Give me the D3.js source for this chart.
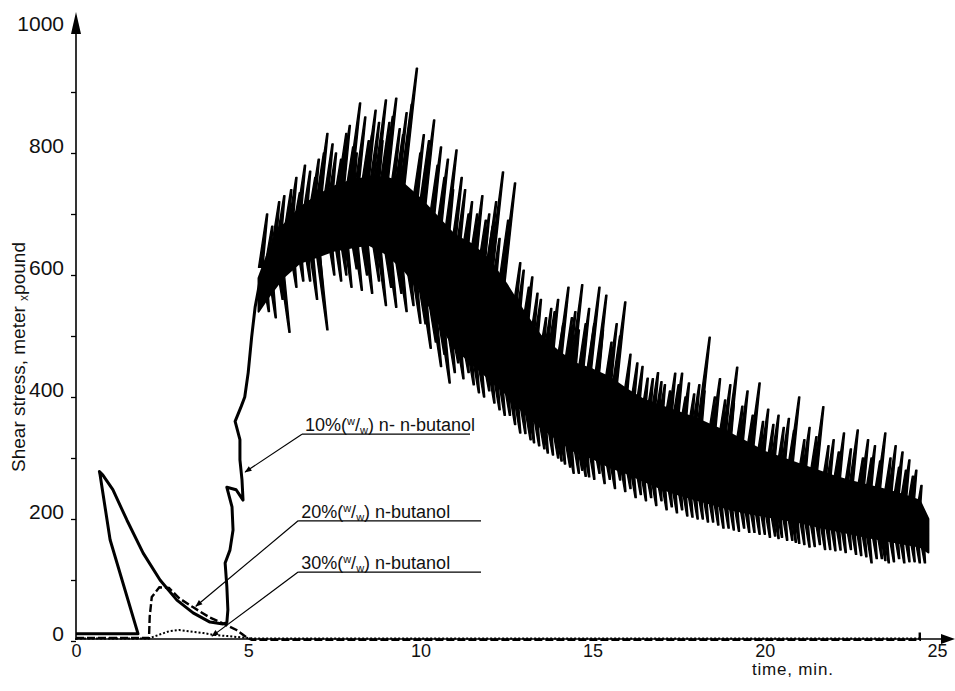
<!DOCTYPE html>
<html>
<head>
<meta charset="utf-8">
<script src="https://d3js.org/d3.v7.min.js"></script>
<style>
  body { margin: 0; background: #fff; }
  svg { display: block; font-family: "Liberation Sans", Arial, sans-serif; }
</style>
</head>
<body>
<svg width="955" height="691"></svg>
<script>
// 10% n-butanol: start-up loop and the climb (time in min, shear stress)
var loopTime = [0, 1.8, 0.99, 0.7, 0.68, 0.78, 1.07, 1.48, 1.95, 2.44, 2.93, 3.4, 3.89, 4.27, 4.38, 4.41, 4.38, 4.33, 4.47, 4.56, 4.53, 4.38, 4.65, 4.85, 4.82, 4.76, 4.76, 4.62, 4.8, 4.9, 5.0, 5.1, 5.2, 5.35];
var loopValue = [12, 12, 166, 272, 278, 272, 248, 198, 144, 100, 67, 46, 31, 28, 30, 51, 89, 128, 149, 182, 220, 252, 248, 231, 264, 297, 330, 360, 385, 400, 440, 498, 547, 592];

// 10% n-butanol: dense part of the noisy trace (lower / upper edge)
var bandTime = [5.3, 5.6, 6, 6.5, 7, 7.5, 8, 8.5, 9, 9.5, 10, 10.5, 11, 11.5, 12, 12.5, 13, 13.5, 14, 14.5, 15, 15.5, 16, 16.5, 17, 17.5, 18, 18.5, 19, 19.5, 20, 20.5, 21, 21.5, 22, 22.5, 23, 23.5, 24, 24.5, 24.75];
var bandLow = [540, 565, 595, 620, 630, 640, 645, 650, 635, 610, 575, 525, 480, 455, 430, 405, 375, 350, 330, 310, 300, 285, 275, 262, 250, 240, 232, 224, 216, 210, 205, 200, 195, 188, 182, 176, 170, 165, 160, 155, 145];
var bandHigh = [595, 640, 680, 710, 730, 745, 755, 760, 760, 750, 725, 695, 665, 650, 625, 585, 540, 500, 475, 455, 445, 432, 412, 395, 385, 375, 365, 352, 340, 325, 310, 300, 290, 280, 270, 262, 255, 248, 240, 230, 200];

// 10% n-butanol: tall peaks above the band
var upTime = [5.55, 5.9, 6.25, 6.5, 6.8, 7.05, 7.3, 7.55, 7.85, 8.05, 8.25, 8.4, 8.6, 8.8, 9.0, 9.2, 9.4, 9.6, 9.9, 10.1, 10.4, 10.6, 10.8, 11.05, 11.3, 11.5, 11.8, 12.0, 12.2, 12.4, 12.75, 13.0, 13.25, 13.5, 13.8, 14.0, 14.3, 14.5, 14.7, 14.9, 15.2, 15.4, 15.7, 15.95, 16.3, 16.6, 16.9, 17.1, 17.4, 17.6, 17.8, 18.1, 18.4, 18.7, 19.0, 19.2, 19.5, 19.85, 20.1, 20.4, 20.7, 21.0, 21.3, 21.7, 22.0, 22.3, 22.7, 23.0, 23.2, 23.5, 23.8, 24.0, 24.2, 24.4];
var upTop = [700, 720, 740, 735, 770, 790, 832, 800, 832, 810, 882, 859, 830, 850, 887, 860, 840, 866, 939, 830, 854, 810, 790, 805, 740, 720, 730, 700, 720, 769, 751, 608, 597, 560, 545, 560, 580, 540, 584, 545, 580, 567, 520, 556, 456, 431, 440, 420, 439, 439, 423, 420, 498, 430, 420, 449, 410, 423, 380, 370, 365, 400, 350, 384, 330, 341, 346, 330, 320, 341, 320, 310, 297, 280];

// 10% n-butanol: smaller peaks in between
var smallUpTime = [5.7, 6.05, 6.4, 6.65, 6.95, 7.2, 7.45, 7.7, 7.95, 8.15, 8.5, 8.7, 8.9, 9.1, 9.3, 9.5, 9.75, 10.0, 10.25, 10.5, 10.7, 10.95, 11.2, 11.4, 11.65, 11.9, 12.1, 12.3, 12.55, 12.9, 13.15, 13.4, 13.65, 13.9, 14.15, 14.4, 14.6, 14.8, 15.05, 15.3, 15.55, 15.8, 16.1, 16.45, 16.75, 17.0, 17.25, 17.5, 17.7, 17.95, 18.25, 18.55, 18.85, 19.1, 19.35, 19.65, 19.95, 20.25, 20.55, 20.85, 21.15, 21.5, 21.85, 22.15, 22.5, 22.85, 23.1, 23.35, 23.65, 23.9, 24.1, 24.3, 24.55];
var smallUpTop = [680, 730, 760, 780, 760, 800, 815, 790, 845, 800, 820, 870, 820, 850, 890, 830, 880, 800, 820, 780, 760, 740, 760, 700, 700, 690, 680, 660, 690, 620, 580, 570, 530, 540, 520, 530, 510, 520, 520, 510, 490, 500, 470, 450, 430, 425, 410, 420, 400, 405, 410, 400, 395, 390, 385, 370, 360, 355, 350, 345, 330, 335, 320, 310, 315, 300, 300, 295, 300, 285, 280, 270, 255];

// 10% n-butanol: deep dips below the band
var downTime = [5.8, 6.2, 6.6, 7.0, 7.3, 7.7, 8.0, 8.3, 8.6, 9.0, 9.3, 9.6, 10.0, 10.3, 10.6, 10.85, 11.1, 11.4, 11.7, 12.0, 12.3, 12.6, 12.9, 13.2, 13.45, 13.7, 14.0, 14.2, 14.45, 14.7, 14.9, 15.2, 15.5, 15.8, 16.1, 16.4, 16.7, 17.0, 17.3, 17.6, 17.9, 18.2, 18.5, 18.8, 19.1, 19.4, 19.7, 20.0, 20.3, 20.5, 20.8, 21.0, 21.3, 21.6, 21.9, 22.2, 22.5, 22.8, 23.1, 23.4, 23.6, 23.9, 24.2, 24.5];
var downBottom = [530, 506, 590, 560, 510, 590, 580, 575, 570, 550, 547, 540, 521, 480, 450, 423, 456, 440, 407, 410, 379, 370, 341, 330, 320, 308, 300, 290, 275, 280, 269, 275, 265, 264, 250, 240, 235, 230, 220, 215, 203, 200, 195, 185, 182, 185, 178, 175, 172, 170, 165, 160, 154, 158, 150, 149, 150, 140, 128, 135, 128, 135, 130, 128];

// 10% n-butanol: smaller dips in between
var smallDownTime = [5.6, 6.0, 6.4, 6.8, 7.15, 7.5, 7.85, 8.15, 8.45, 8.8, 9.15, 9.45, 9.8, 10.15, 10.45, 10.7, 11.0, 11.25, 11.55, 11.85, 12.15, 12.45, 12.75, 13.05, 13.3, 13.6, 13.85, 14.1, 14.35, 14.6, 14.8, 15.05, 15.35, 15.65, 15.95, 16.25, 16.55, 16.85, 17.15, 17.45, 17.75, 18.05, 18.35, 18.65, 18.95, 19.25, 19.55, 19.85, 20.15, 20.4, 20.65, 20.9, 21.15, 21.45, 21.75, 22.05, 22.35, 22.65, 22.95, 23.25, 23.5, 23.75, 24.05, 24.35, 24.65];
var smallDownBottom = [540, 560, 580, 590, 585, 600, 600, 610, 600, 590, 580, 570, 550, 520, 490, 470, 440, 430, 420, 400, 390, 370, 355, 340, 325, 315, 305, 295, 285, 275, 270, 265, 258, 250, 245, 235, 230, 222, 215, 210, 205, 200, 195, 190, 185, 180, 178, 175, 170, 168, 165, 162, 158, 155, 150, 148, 145, 142, 138, 135, 132, 130, 128, 130, 128];

// 20% n-butanol (dashed)
var twentyTime = [0, 2.12, 2.14, 2.2, 2.42, 2.7, 3.0, 3.38, 3.87, 4.37, 4.66, 4.95, 5.1, 24.5, 24.5];
var twentyValue = [5, 5, 40, 72, 88, 87, 70, 56, 39, 26, 18, 6, 2, 2, 14];

// 30% n-butanol (dotted)
var thirtyTime = [0, 2.1, 2.4, 2.7, 3.0, 3.4, 3.7, 4.0, 4.4, 4.8, 5.2, 24.5];
var thirtyValue = [4, 4, 10, 16, 18, 15, 13, 10, 8, 6, 4, 4];

var xTicks = [0, 5, 10, 15, 20, 25];
var yTicks = [0, 100, 200, 300, 400, 500, 600, 700, 800, 900, 1000];

// labels: where the underline starts / ends and where the arrow points
var labelPct = ["10", "20", "30"];
var labelRest = [") n- n-butanol", ") n-butanol", ") n-butanol"];
var labelTime = [6.56, 6.45, 6.45];
var labelValue = [339, 197, 113];
var labelEnd = [11.44, 11.76, 11.76];
var pointTime = [4.91, 3.48, 3.95];
var pointValue = [277, 57, 8];

var svg = d3.select("svg");

var x = d3.scaleLinear().domain([0, 25]).range([76, 937]);
var y = d3.scaleLinear().domain([0, 1000]).range([641, 31]);
var axisY = y(0) - 2;

var line = d3
  .line()
  .x(function (d) { return x(d[0]); })
  .y(function (d) { return y(d[1]); });

// arrow marker for the label leaders
svg
  .append("defs")
  .append("marker")
  .attr("id", "tip")
  .attr("viewBox", "0 0 10 10")
  .attr("refX", 9)
  .attr("refY", 5)
  .attr("markerWidth", 9)
  .attr("markerHeight", 7)
  .attr("markerUnits", "userSpaceOnUse")
  .attr("orient", "auto")
  .append("path")
  .attr("d", "M0,1L10,5L0,9Z")
  .attr("fill", "#000");

// y axis
var yAxis = svg
  .append("g")
  .attr("transform", "translate(" + x(0) + ",0)")
  .call(
    d3
      .axisLeft(y)
      .tickValues(yTicks)
      .tickSize(5)
      .tickPadding(7)
      .tickFormat(function (d) { return d % 200 === 0 ? d : ""; })
  );
yAxis.select(".domain").remove();
yAxis.selectAll(".tick line").attr("stroke", "#000").attr("stroke-width", 1.3);
yAxis.selectAll(".tick").filter(function (d) { return d === 1000; }).select("line").remove();
yAxis
  .selectAll(".tick text")
  .attr("dy", "-0.02em")
  .attr("fill", "#111")
  .style("font-size", "21px")
  .style("font-family", "Liberation Sans, Arial, sans-serif");

svg
  .append("line")
  .attr("x1", x(0)).attr("y1", axisY + 1)
  .attr("x2", x(0)).attr("y2", y(1000) - 4)
  .attr("stroke", "#000").attr("stroke-width", 1.6);
svg
  .append("path")
  .attr("d", "M" + x(0) + "," + (y(1000) - 19) + "L" + (x(0) - 5) + "," + (y(1000) + 3) + "L" + (x(0) + 5) + "," + (y(1000) + 3) + "Z")
  .attr("fill", "#000");

// x axis
var xAxis = svg
  .append("g")
  .attr("transform", "translate(0," + axisY + ")")
  .call(d3.axisBottom(x).tickValues(xTicks).tickSize(0).tickPadding(5));
xAxis.select(".domain").remove();
xAxis
  .selectAll(".tick text")
  .attr("fill", "#111")
  .style("font-size", "18px")
  .style("font-family", "Liberation Sans, Arial, sans-serif");

svg
  .append("line")
  .attr("x1", x(0) - 1).attr("y1", axisY)
  .attr("x2", x(25) + 8).attr("y2", axisY)
  .attr("stroke", "#000").attr("stroke-width", 1.6);
svg
  .append("path")
  .attr("d", "M" + (x(25) + 18) + "," + axisY + "L" + (x(25) + 4) + "," + (axisY - 5) + "L" + (x(25) + 4) + "," + (axisY + 5) + "Z")
  .attr("fill", "#000");

// axis titles
svg
  .append("text")
  .attr("transform", "translate(25,357) rotate(-90)")
  .attr("text-anchor", "middle")
  .style("font-size", "19px")
  .attr("fill", "#111")
  .call(function (t) {
    t.append("tspan").text("Shear stress, meter ");
    t.append("tspan").attr("dy", 3).style("font-size", "12px").text("x");
    t.append("tspan").attr("dy", -3).text("pound");
  });

svg
  .append("text")
  .attr("x", 752)
  .attr("y", 675)
  .style("font-size", "17px")
  .style("letter-spacing", "0.8px")
  .attr("fill", "#111")
  .text("time, min.");

// 10% trace: dense band, then the spikes
var band = d3.zip(bandTime, bandLow, bandHigh);
svg
  .append("path")
  .datum(band)
  .attr("d", d3.area()
    .x(function (d) { return x(d[0]); })
    .y0(function (d) { return y(d[1]); })
    .y1(function (d) { return y(d[2]); }))
  .attr("fill", "#000")
  .attr("stroke", "#000")
  .attr("stroke-width", 2)
  .attr("stroke-linejoin", "round");

var highAt = d3.scaleLinear().domain(bandTime).range(bandHigh);
var lowAt = d3.scaleLinear().domain(bandTime).range(bandLow);

// narrow leaning stroke from the band edge to the peak / dip
function spike(t, tipV, baseV) {
  var tx = x(t), ty = y(tipV), by = y(baseV);
  var lean = 0.12 * Math.abs(by - ty);
  return "M" + (tx - lean - 2.2) + "," + by + "L" + (tx - 0.6) + "," + ty + "L" + (tx + 0.6) + "," + ty + "L" + (tx - lean + 2.2) + "," + by + "Z";
}

function drawSpikes(times, tips, up) {
  svg
    .append("g")
    .selectAll("path")
    .data(d3.zip(times, tips))
    .enter()
    .append("path")
    .attr("d", function (d) {
      return spike(d[0], d[1], up ? highAt(d[0]) - 20 : lowAt(d[0]) + 20);
    })
    .attr("fill", "#000")
    .attr("stroke", "#000")
    .attr("stroke-width", 1.4)
    .attr("stroke-linejoin", "round");
}

drawSpikes(upTime, upTop, true);
drawSpikes(smallUpTime, smallUpTop, true);
drawSpikes(downTime, downBottom, false);
drawSpikes(smallDownTime, smallDownBottom, false);

// 10% loop and climb
svg
  .append("path")
  .datum(d3.zip(loopTime, loopValue))
  .attr("d", line)
  .attr("fill", "none")
  .attr("stroke", "#000")
  .attr("stroke-width", 3)
  .attr("stroke-linejoin", "round");

// 20% dashed
svg
  .append("path")
  .datum(d3.zip(twentyTime, twentyValue))
  .attr("d", line)
  .attr("fill", "none")
  .attr("stroke", "#000")
  .attr("stroke-width", 2.4)
  .attr("stroke-dasharray", "8,3");

// 30% dotted
svg
  .append("path")
  .datum(d3.zip(thirtyTime, thirtyValue))
  .attr("d", line)
  .attr("fill", "none")
  .attr("stroke", "#000")
  .attr("stroke-width", 2)
  .attr("stroke-dasharray", "2,2");

// labels with underline and leader arrow
var labels = svg
  .append("g")
  .selectAll("g")
  .data(d3.range(labelPct.length))
  .enter()
  .append("g");

labels
  .append("line")
  .attr("x1", function (i) { return x(labelTime[i]); })
  .attr("y1", function (i) { return y(labelValue[i]); })
  .attr("x2", function (i) { return x(labelEnd[i]); })
  .attr("y2", function (i) { return y(labelValue[i]); })
  .attr("stroke", "#000")
  .attr("stroke-width", 1.2);

labels
  .append("line")
  .attr("x1", function (i) { return x(labelTime[i]); })
  .attr("y1", function (i) { return y(labelValue[i]); })
  .attr("x2", function (i) { return x(pointTime[i]); })
  .attr("y2", function (i) { return y(pointValue[i]); })
  .attr("stroke", "#000")
  .attr("stroke-width", 1.2)
  .attr("marker-end", "url(#tip)");

labels
  .append("text")
  .attr("x", function (i) { return x(labelTime[i]) + 3; })
  .attr("y", function (i) { return y(labelValue[i]) - 3; })
  .style("font-size", "18px")
  .attr("fill", "#111")
  .each(function (i) {
    var t = d3.select(this);
    t.append("tspan").text(labelPct[i] + "%(");
    t.append("tspan").attr("dy", -6).style("font-size", "11px").text("w");
    t.append("tspan").attr("dy", 6).text("/");
    t.append("tspan").attr("dy", 3).style("font-size", "11px").text("w");
    t.append("tspan").attr("dy", -3).text(labelRest[i]);
  });
</script>
</body>
</html>
